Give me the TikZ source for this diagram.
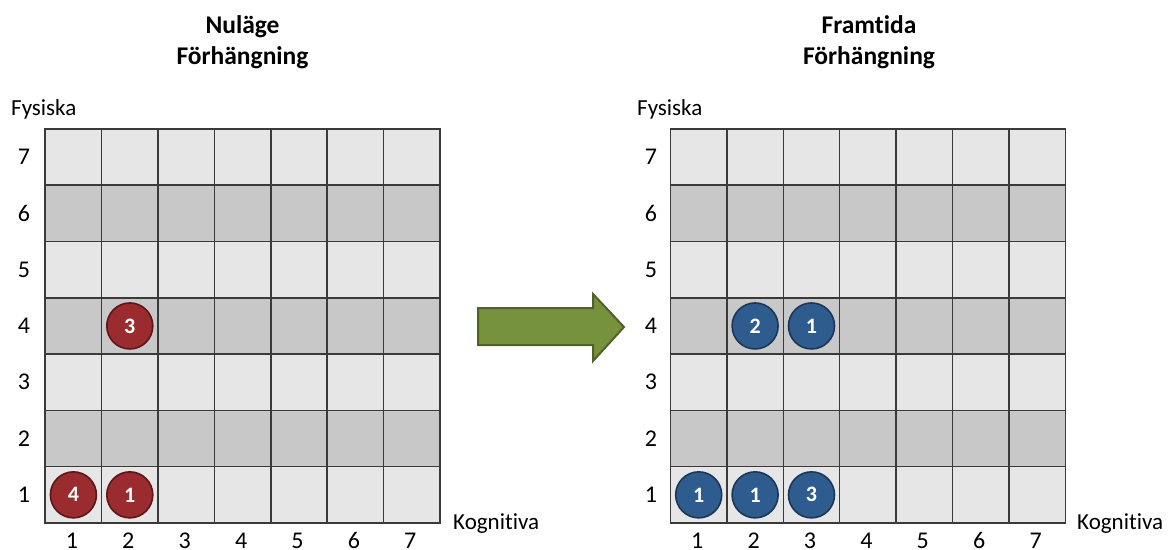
\documentclass[tikz,border=0pt]{standalone}
\usepackage{fontspec}
\setmainfont{Carlito}[Ligatures=NoCommon]
\definecolor{cellLight}{HTML}{E6E6E6}
\definecolor{cellDark}{HTML}{C8C8C8}
\definecolor{gridline}{HTML}{3A3A3A}
\definecolor{redfill}{HTML}{9A2B2E}
\definecolor{redline}{HTML}{5E1618}
\definecolor{bluefill}{HTML}{2F5C8F}
\definecolor{blueline}{HTML}{1C3658}
\definecolor{arrowfill}{HTML}{76923C}
\definecolor{arrowline}{HTML}{4F6228}
\tikzset{
  cellbase/.style={rectangle, minimum width=56.5pt, minimum height=56.4pt, inner sep=0pt, outer sep=0pt},
  celllight/.style={cellbase, fill=cellLight},
  celldark/.style={cellbase, fill=cellDark},
  gridrule/.style={draw=gridline, line width=1.5pt, line cap=rect},
  dotbase/.style={circle, minimum size=46pt, inner sep=0pt, line width=1.6pt, text=white, font=\fontsize{22}{26}\selectfont\bfseries},
  reddot/.style={dotbase, fill=redfill, draw=redline},
  bluedot/.style={dotbase, fill=bluefill, draw=blueline},
  axislabel/.style={inner sep=0pt, font=\fontsize{23}{27}\selectfont},
  axisnum/.style={inner sep=0pt, font=\fontsize{24}{28}\selectfont},
  titletext/.style={inner sep=0pt, font=\fontsize{25.5}{30}\selectfont\bfseries},
  bigarrow/.style={fill=arrowfill, draw=arrowline, line width=2pt, line join=miter}
}
\begin{document}
\begin{tikzpicture}[x=1pt,y=-1pt]
\useasboundingbox (0,0) rectangle (1169,549);
% grids
\foreach \g/\ox in {L/45.2,R/670.5}{
  \foreach \r in {1,...,7}{
    \foreach \c in {1,...,7}{
      \pgfmathsetmacro{\cx}{\ox+(\c-0.5)*56.4}
      \pgfmathsetmacro{\cy}{523-(\r-0.5)*56.3}
      \pgfmathparse{int(mod(\r,2))}
      \ifnum\pgfmathresult=0
        \node[celldark] (\g-\r-\c) at (\cx,\cy) {};
      \else
        \node[celllight] (\g-\r-\c) at (\cx,\cy) {};
      \fi
    }
  }
  % grid rules, each drawn once
  \foreach \c in {1,...,7}{
    \draw[gridrule] (\g-7-\c.north -| \g-7-\c.center) ++(-28.2,0) coordinate (\g-vt-\c)
      -- (\g-vt-\c |- \g-1-\c.south);
  }
  \draw[gridrule] (\g-7-7.center) ++(28.2,-28.15) coordinate (\g-vt-8) -- (\g-vt-8 |- \g-1-7.south);
  \foreach \r in {1,...,7}{
    \draw[gridrule] (\g-\r-1.center) ++(-28.2,-28.15) coordinate (\g-hl-\r)
      -- (\g-hl-\r -| \g-vt-8);
  }
  \draw[gridrule] (\g-1-1.center) ++(-28.2,28.15) coordinate (\g-hl-0) -- (\g-hl-0 -| \g-vt-8);
}
% axis labels
\foreach \g/\yx in {L/24,R/651}{
  \foreach \r in {1,...,7}{
    \node[axisnum] (\g-ylab-\r) at (\yx,{523-(\r-0.5)*56.3}) {\r};
  }
  \foreach \c in {1,...,7}{
    \node[axisnum, anchor=base, xshift=-1.5pt] (\g-xlab-\c) at (\g-1-\c.center |- 0,548.5) {\c};
  }
}
\node[axislabel, anchor=base west] (L-fys) at (11,115) {Fysiska};
\node[axislabel, anchor=base west] (R-fys) at (637,115) {Fysiska};
\node[axislabel, anchor=base west] (L-kog) at (453,529.5) {Kognitiva};
\node[axislabel, anchor=base west] (R-kog) at (1077,529.5) {Kognitiva};
% titles
\node[titletext, anchor=base] (L-t1) at (242.5,33.5) {Nuläge};
\node[titletext, anchor=base] (L-t2) at (242.5,64) {Förhängning};
\node[titletext, anchor=base] (R-t1) at (869,33.5) {Framtida};
\node[titletext, anchor=base] (R-t2) at (869,64) {Förhängning};
% dots
\node[reddot] (L-d42) at (L-4-2) {3};
\node[reddot] (L-d11) at (L-1-1) {4};
\node[reddot] (L-d12) at (L-1-2) {1};
\node[bluedot] (R-d42) at (R-4-2) {2};
\node[bluedot] (R-d43) at (R-4-3) {1};
\node[bluedot] (R-d11) at (R-1-1) {1};
\node[bluedot] (R-d12) at (R-1-2) {1};
\node[bluedot] (R-d13) at (R-1-3) {3};
% arrow
\draw[bigarrow] (478,308) -- (593,308) -- (593,294) -- (624,327) -- (593,361) -- (593,345) -- (478,345) -- cycle;
\end{tikzpicture}
\end{document}
